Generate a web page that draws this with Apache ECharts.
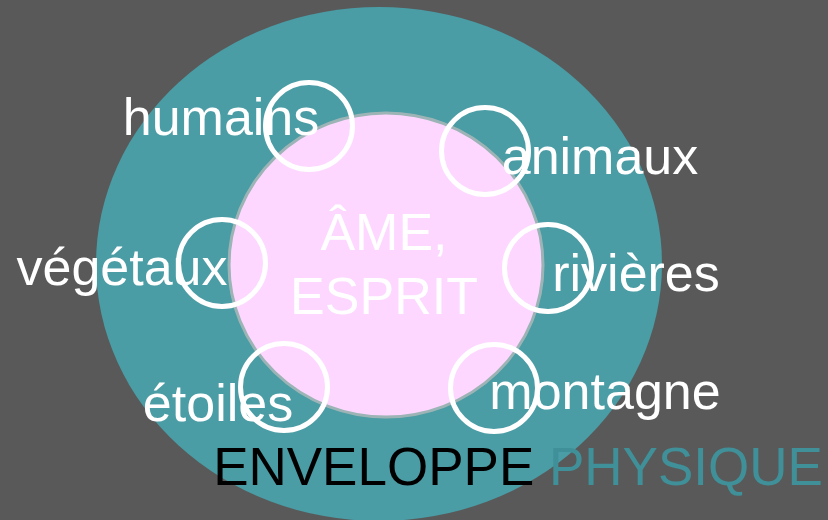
<!DOCTYPE html>
<html>
<head>
<meta charset="utf-8">
<script src="https://cdn.jsdelivr.net/npm/echarts@6/dist/echarts.min.js"></script>
<style>
html,body{margin:0;padding:0;background:#595959;}
#c{width:828px;height:520px;}
</style>
</head>
<body>
<div id="c"></div>
<script>
// Diagram data (diagram units = pixels of the 828x520 canvas)
var layers = ['ENVELOPPE PHYSIQUE', 'ÂME, ESPRIT'];
var layerX = [379, 386];
var layerY = [264, 265];
var layerW = [566, 314];
var layerH = [514, 304];

var elements = ['humains', 'animaux', 'végétaux', 'rivières', 'étoiles', 'montagne'];
var ringX = [309, 485, 222, 548, 284, 494];
var ringY = [126, 151, 263, 268, 387, 388];
var labelX = [221, 600, 122, 636, 218, 605];
var labelY = [121, 160, 271, 277, 407, 395];

var coreText = ['ÂME,', 'ESPRIT'];
var coreX = [384, 384];
var coreY = [236, 300];

var titleParts = ['ENVELOPPE', 'PHYSIQUE'];
var titleX = 518;
var titleY = 470;

var FONT = 'Liberation Sans, Arial, sans-serif';

var chart = echarts.init(document.getElementById('c'), null, {renderer: 'canvas'});
function textSeries(data, label) {
  return {
    type: 'scatter', silent: true, clip: false, z: 4,
    data: data, symbolSize: 0,
    itemStyle: {opacity: 1},
    label: label
  };
}
chart.setOption({
  backgroundColor: '#595959',
  animation: false,
  grid: {left: 0, right: 0, top: 0, bottom: 0},
  xAxis: {type: 'value', min: 0, max: 828, show: false},
  yAxis: {type: 'value', min: 0, max: 520, inverse: true, show: false},
  series: [
    {
      type: 'scatter', silent: true, clip: false, z: 1,
      data: [[layerX[0], layerY[0]]],
      symbol: 'circle', symbolSize: [layerW[0], layerH[0]],
      itemStyle: {color: '#4a9ca5', opacity: 1}
    },
    {
      type: 'scatter', silent: true, clip: false, z: 2,
      data: [[layerX[1], layerY[1]]],
      symbol: 'circle', symbolSize: [layerW[1], layerH[1]],
      itemStyle: {color: '#fdd7ff', borderColor: '#9db4b6', borderWidth: 3, opacity: 1}
    },
    {
      type: 'scatter', silent: true, clip: false, z: 3,
      data: elements.map(function (n, i) { return [ringX[i], ringY[i]]; }),
      symbol: 'circle', symbolSize: 87,
      itemStyle: {color: 'rgba(0,0,0,0)', borderColor: '#ffffff', borderWidth: 5, opacity: 1}
    },
    textSeries(
      elements.map(function (n, i) { return {value: [labelX[i], labelY[i]], name: n}; }),
      {
        show: true, position: 'inside', formatter: '{b}',
        color: '#ffffff', fontSize: 52, fontFamily: FONT,
        align: 'center', verticalAlign: 'middle'
      }
    ),
    textSeries(
      coreText.map(function (t, i) { return {value: [coreX[i], coreY[i]], name: t}; }),
      {
        show: true, position: 'inside', formatter: '{b}',
        color: '#ffffff', fontSize: 52, fontFamily: FONT,
        align: 'center', verticalAlign: 'middle'
      }
    ),
    textSeries(
      [{value: [titleX, titleY], name: layers[0]}],
      {
        show: true, position: 'inside',
        formatter: '{a|' + titleParts[0] + '\u00a0}{b|' + titleParts[1] + '}',
        align: 'center', verticalAlign: 'middle',
        rich: {
          a: {color: '#000000', fontSize: 53, fontFamily: FONT},
          b: {color: '#3f9098', fontSize: 53, fontFamily: FONT}
        }
      }
    )
  ]
});
</script>
</body>
</html>
